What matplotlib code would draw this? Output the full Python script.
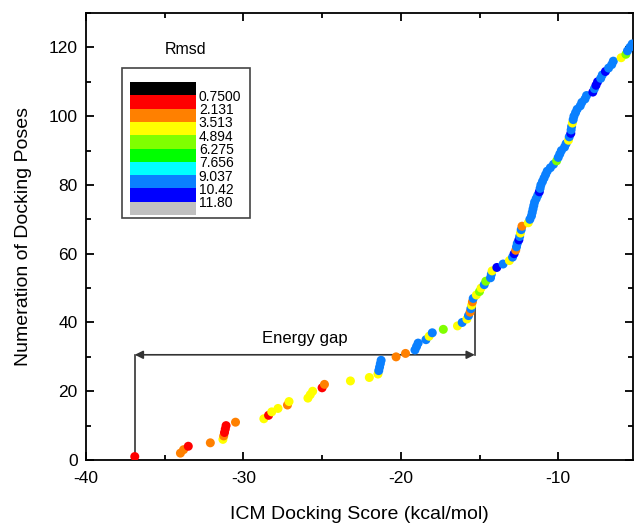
import matplotlib
matplotlib.use("Agg")
import matplotlib.pyplot as plt
from matplotlib.colors import ListedColormap, BoundaryNorm
from matplotlib.patches import Rectangle
from matplotlib.ticker import MultipleLocator

plt.rcParams['font.family'] = ['Liberation Sans', 'DejaVu Sans']
plt.rcParams['axes.unicode_minus'] = False

# docking poses, sorted by ICM score (pose number = rank)
scores = [
    -36.9, -34.0, -33.8, -33.5, -32.1, -31.3, -31.25, -31.2, -31.15, -31.1,
    -30.5, -28.7, -28.4, -28.2, -27.8, -27.2, -27.1, -25.9, -25.75, -25.6,
    -25.0, -24.85, -23.2, -22.0, -21.45, -21.4, -21.35, -21.3, -21.25, -20.3,
    -19.7, -19.1, -19.0, -18.9, -18.4, -18.2, -18.0, -17.3, -16.4, -16.1,
    -15.8, -15.7, -15.6, -15.55, -15.5, -15.45, -15.4, -15.2, -15.0, -14.9,
    -14.7, -14.6, -14.3, -14.25, -14.2, -13.9, -13.5, -13.1, -12.9, -12.8,
    -12.7, -12.65, -12.6, -12.5, -12.45, -12.4, -12.35, -12.3, -11.9, -11.8,
    -11.7, -11.65, -11.6, -11.55, -11.5, -11.4, -11.3, -11.2, -11.15, -11.1,
    -11.0, -10.9, -10.8, -10.7, -10.5, -10.3, -10.1, -10.0, -9.9, -9.8,
    -9.6, -9.5, -9.35, -9.3, -9.2, -9.18, -9.15, -9.1, -9.05, -9.0,
    -8.9, -8.8, -8.6, -8.5, -8.3, -8.2, -7.8, -7.7, -7.6, -7.5,
    -7.3, -7.2, -7.0, -6.8, -6.6, -6.5, -6.0, -5.7, -5.6, -5.45,
    -5.3,
]
rmsd = [
    1.4, 2.8, 3.1, 1.7, 2.9, 4.1, 2.6, 1.9, 1.5, 1.2,
    3.0, 4.3, 1.9, 4.5, 4.0, 2.7, 4.2, 4.4, 3.9, 4.6,
    1.6, 2.5, 4.1, 4.3, 4.0, 9.6, 9.8, 9.5, 9.9, 2.9,
    3.2, 9.7, 9.4, 9.8, 9.6, 4.2, 9.9, 5.6, 4.4, 9.5,
    4.1, 9.7, 2.8, 9.6, 4.3, 3.0, 9.8, 4.5, 5.4, 4.0,
    9.4, 5.7, 9.6, 9.8, 4.2, 11.1, 9.7, 4.4, 9.5, 10.9,
    2.7, 9.6, 9.9, 11.0, 9.7, 4.1, 9.5, 3.1, 4.3, 9.8,
    9.6, 9.4, 9.7, 9.9, 9.5, 9.8, 9.6, 11.2, 9.7, 9.5,
    9.9, 9.6, 9.4, 9.8, 9.7, 9.5, 5.5, 9.6, 9.8, 9.9,
    9.7, 9.4, 4.2, 9.6, 11.0, 9.8, 9.5, 4.5, 9.7, 9.9,
    9.6, 9.8, 9.4, 9.7, 9.5, 9.9, 11.1, 9.6, 10.8, 11.3,
    9.7, 9.5, 11.0, 9.8, 9.6, 9.9, 4.3, 5.6, 9.7, 9.5,
    9.8,
]
poses = list(range(1, len(scores) + 1))

# Rmsd colour scale
levels = [0.75, 2.131, 3.513, 4.894, 6.275, 7.656, 9.037, 10.42, 11.80]
level_labels = ['0.7500', '2.131', '3.513', '4.894', '6.275', '7.656', '9.037', '10.42', '11.80']
colors = ['#000000', '#ff0000', '#ff8000', '#ffff00', '#80ff00', '#00ff00',
          '#00ffff', '#0a80ff', '#0000ff', '#c0c0c0']

# energy gap between best pose and the start of the steep region
gap_left = -36.9
gap_right = -15.3
gap_y = 30.6
gap_top = 44.6

cmap = ListedColormap(colors[1:-1])
cmap.set_under(colors[0])
cmap.set_over(colors[-1])
norm = BoundaryNorm(levels, cmap.N)

fig = plt.figure(figsize=(6.34, 5.25), dpi=100)
ax = fig.add_axes([0.1356, 0.1238, 0.8628, 0.8514])

sc = ax.scatter(scores, poses, c=rmsd, cmap=cmap, norm=norm, s=42,
                linewidths=0, zorder=3)

ax.set_xlim(-40, -5.25)
ax.set_ylim(0, 130)
ax.xaxis.set_major_locator(MultipleLocator(10))
ax.xaxis.set_minor_locator(MultipleLocator(5))
ax.yaxis.set_major_locator(MultipleLocator(20))
ax.yaxis.set_minor_locator(MultipleLocator(10))
ax.tick_params(which='both', direction='in', top=True, right=True, width=1.3)
ax.tick_params(which='major', length=6, labelsize=12.5)
ax.tick_params(which='minor', length=3.5)
ax.tick_params(axis='x', pad=8, labeltop=False)
ax.tick_params(axis='y', pad=6, labelright=False)
for sp in ax.spines.values():
    sp.set_linewidth(1.3)

ax.set_xlabel('ICM Docking Score (kcal/mol)', fontsize=14, labelpad=14)
ax.set_ylabel('Numeration of Docking Poses', fontsize=14, labelpad=12)

# energy gap marker
ax.plot([gap_left, gap_left], [0, gap_y], color='#333333', lw=1.2, zorder=2)
ax.plot([gap_right, gap_right], [gap_y, gap_top], color='#333333', lw=1.2, zorder=2)
ax.annotate('', xy=(gap_left, gap_y), xytext=(gap_right, gap_y),
            arrowprops=dict(arrowstyle='<|-|>', color='#333333', lw=1.2,
                            mutation_scale=12, shrinkA=0, shrinkB=0), zorder=2)
ax.text((gap_left + gap_right) / 2, gap_y + 2.5, 'Energy gap', ha='center',
        va='bottom', fontsize=12)

# Rmsd key
fig.patches.append(Rectangle((122 / 634, 1 - 218 / 525), 128 / 634, 150 / 525,
                             transform=fig.transFigure, fill=False,
                             edgecolor='#444444', lw=1.2))
fig.text(186 / 634, 1 - 50 / 525, 'Rmsd', ha='center', va='center', fontsize=11.5)
cax = fig.add_axes([130 / 634, 1 - 215 / 525, 66 / 634, 133 / 525])
cb = fig.colorbar(sc, cax=cax, extend='both', extendrect=True,
                  extendfrac=1 / 8, spacing='uniform')
cb.outline.set_visible(False)
cb.set_ticks(levels)
cb.set_ticklabels(level_labels)
cax.invert_yaxis()
cax.tick_params(length=0, labelsize=10, pad=2)

fig.savefig('out.png', dpi=100)
